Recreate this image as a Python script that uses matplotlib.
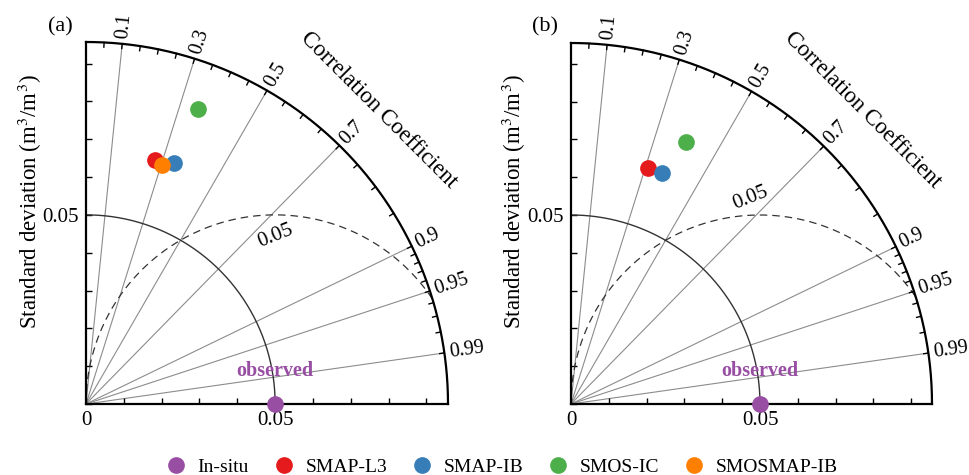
import numpy as np
import matplotlib.pyplot as plt
from matplotlib.lines import Line2D

plt.rcParams["font.family"] = ["Liberation Serif", "DejaVu Serif"]
plt.rcParams["mathtext.fontset"] = "stix"

products = ["In-situ", "SMAP-L3", "SMAP-IB", "SMOS-IC", "SMOSMAP-IB"]
colors = {"In-situ": "#984ea3", "SMAP-L3": "#e41a1c", "SMAP-IB": "#377eb8",
          "SMOS-IC": "#4daf4a", "SMOSMAP-IB": "#ff7f00"}

ref_std = 0.05

# panel (a)
names_a = ["SMAP-L3", "SMAP-IB", "SMOS-IC", "SMOSMAP-IB"]
std_a = [0.0671, 0.0679, 0.0835, 0.0664]
corr_a = [0.272, 0.342, 0.356, 0.303]

# panel (b)
names_b = ["SMAP-L3", "SMAP-IB", "SMOS-IC"]
std_b = [0.0657, 0.0656, 0.0758]
corr_b = [0.309, 0.368, 0.402]

corr_grid = [0.1, 0.3, 0.5, 0.7, 0.9, 0.95, 0.99]
corr_labels = ["0.1", "0.3", "0.5", "0.7", "0.9", "0.95", "0.99"]
corr_minor = list(np.round(np.arange(0.05, 0.901, 0.05), 2)) + list(np.round(np.arange(0.91, 0.995, 0.01), 2))
rms_level = 0.05


def taylor(ax, rmax, names, stds, corrs, rms_xy):
    ax.set_xlim(0, rmax)
    ax.set_ylim(0, rmax)
    for side in ("top", "right"):
        ax.spines[side].set_visible(False)
    for side in ("left", "bottom"):
        ax.spines[side].set_linewidth(1.6)
        ax.spines[side].set_zorder(5)

    ticks = np.round(np.arange(0, rmax, 0.01), 2)
    ax.set_xticks(ticks)
    ax.set_xticklabels(["0" if t == 0 else ("0.05" if t == 0.05 else "") for t in ticks])
    ax.set_yticks(ticks)
    ax.set_yticklabels(["0.05" if t == 0.05 else "" for t in ticks])
    ax.tick_params(direction="in", length=4, width=1.0, labelsize=15, pad=5)

    # correlation grid lines
    for c in corr_grid:
        th = np.arccos(c)
        ax.plot([0, rmax * np.cos(th)], [0, rmax * np.sin(th)], color="#8c8c8c", lw=0.8, zorder=1)

    # outer arc and ticks
    th = np.linspace(0, np.pi / 2, 300)
    ax.plot(rmax * np.cos(th), rmax * np.sin(th), color="black", lw=1.6, clip_on=False, zorder=5)
    for c in corr_minor:
        t = np.arccos(c)
        r0 = rmax * (1 - 0.013)
        ax.plot([r0 * np.cos(t), rmax * np.cos(t)], [r0 * np.sin(t), rmax * np.sin(t)],
                color="black", lw=1.0, clip_on=False, zorder=5)
    for c, lab in zip(corr_grid, corr_labels):
        t = np.arccos(c)
        rr = rmax * 1.015
        ax.text(rr * np.cos(t), rr * np.sin(t), lab, rotation=np.degrees(t),
                rotation_mode="anchor", ha="left", va="center", fontsize=14.5)
    t = np.radians(45.2)
    ax.text(1.146 * rmax * np.cos(t), 1.146 * rmax * np.sin(t), "Correlation Coefficient",
            rotation=-45, ha="center", va="center", fontsize=16.5, rotation_mode="anchor")

    # reference std arc
    ax.plot(ref_std * np.cos(th), ref_std * np.sin(th), color="#333333", lw=1.0, zorder=2)

    # RMS difference contour
    ang = np.linspace(0, np.pi, 400)
    xs = ref_std + rms_level * np.cos(ang)
    ys = rms_level * np.sin(ang)
    keep = np.hypot(xs, ys) <= rmax
    ax.plot(xs[keep], ys[keep], color="#333333", lw=0.9, ls=(0, (6, 4)), zorder=2)
    ax.text(rms_xy[0], rms_xy[1], "0.05", rotation=22, ha="center", va="center", fontsize=15)

    # observed point
    ax.plot(ref_std, 0, "o", color=colors["In-situ"], ms=11, clip_on=False, zorder=6)
    ax.text(ref_std, 0.0087, "observed", color=colors["In-situ"], fontweight="bold",
            ha="center", va="center", fontsize=14.5)

    for name, s, c in zip(names, stds, corrs):
        t = np.arccos(c)
        ax.plot(s * np.cos(t), s * np.sin(t), "o", color=colors[name], ms=11, zorder=7)


fig = plt.figure(figsize=(9.7, 4.75), dpi=100)
ax_a = fig.add_axes([86 / 970, 71 / 475, 362 / 970, 362 / 475])
ax_b = fig.add_axes([571 / 970, 71 / 475, 361 / 970, 361 / 475])

taylor(ax_a, 0.0957, names_a, std_a, corr_a, (0.0500, 0.0444))
taylor(ax_b, 0.0955, names_b, std_b, corr_b, (0.0474, 0.0545))

ylab = "Standard deviation (m$^{3}$/m$^{3}$)"
fig.text(30 / 970, 1 - 202 / 475, ylab, rotation=90, ha="center", va="center", fontsize=16.5)
fig.text(514 / 970, 1 - 202 / 475, ylab, rotation=90, ha="center", va="center", fontsize=16.5)
fig.text(60 / 970, 1 - 27 / 475, "(a)", ha="center", va="center", fontsize=16)
fig.text(545 / 970, 1 - 27 / 475, "(b)", ha="center", va="center", fontsize=16)

handles = [Line2D([], [], ls="none", marker="o", ms=11, color=colors[p]) for p in products]
fig.legend(handles, products, loc="center", bbox_to_anchor=(502 / 970, 1 - 467 / 475), ncol=5,
           frameon=False, fontsize=14, handlelength=1.0, handletextpad=0.6, columnspacing=1.3)

fig.savefig("out.png", dpi=100)
